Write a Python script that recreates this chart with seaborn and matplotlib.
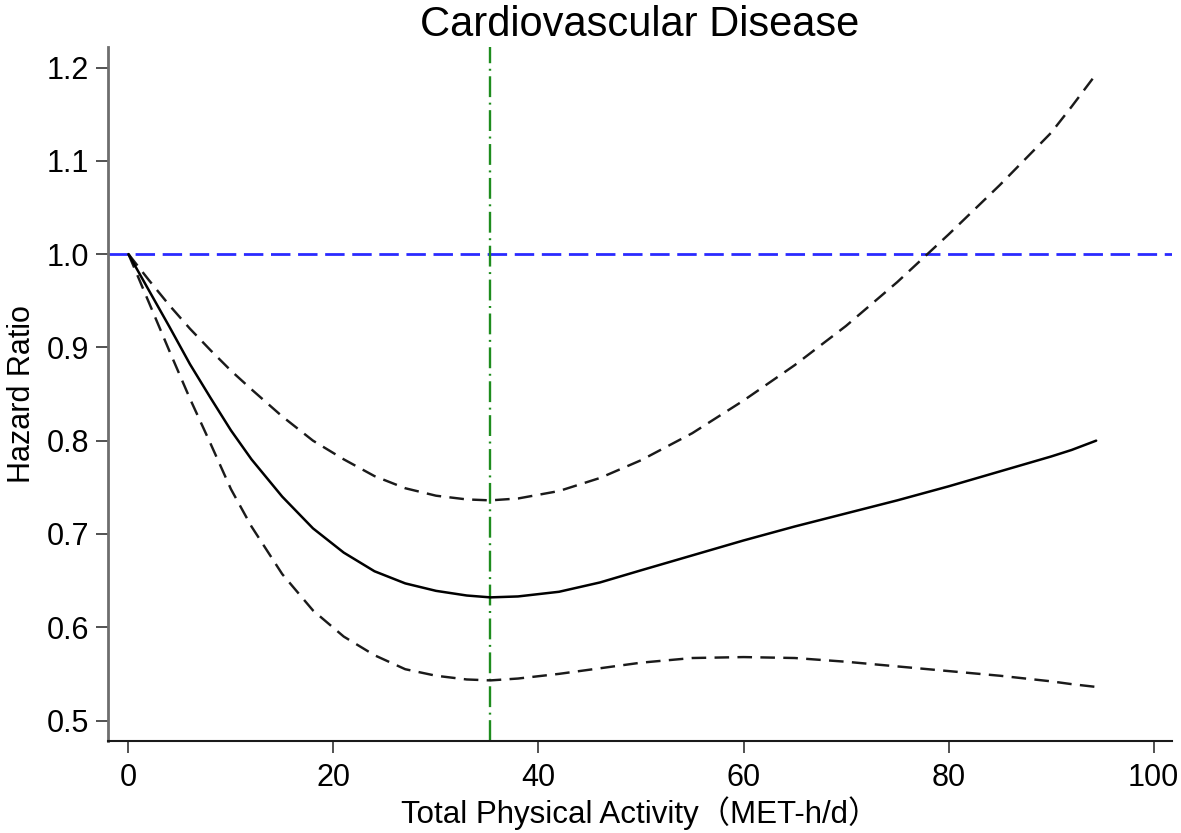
import numpy as np
import pandas as pd
import matplotlib
matplotlib.use('Agg')
import matplotlib.pyplot as plt
import seaborn as sns

# values
met = [0, 2, 4, 6, 8, 10, 12, 15, 18, 21, 24, 27, 30, 33, 35.3, 38, 42, 46, 50,
       55, 60, 65, 70, 75, 80, 85, 90, 92, 94.4]
hr = [1.000, 0.961, 0.922, 0.882, 0.846, 0.811, 0.780, 0.740, 0.706, 0.680, 0.660,
      0.647, 0.639, 0.634, 0.632, 0.633, 0.638, 0.648, 0.661, 0.677, 0.693, 0.708,
      0.722, 0.736, 0.751, 0.767, 0.783, 0.790, 0.800]
hr_upper = [1.000, 0.972, 0.945, 0.920, 0.897, 0.875, 0.855, 0.826, 0.800, 0.780,
            0.762, 0.749, 0.741, 0.737, 0.736, 0.738, 0.746, 0.760, 0.779, 0.808,
            0.843, 0.881, 0.923, 0.970, 1.021, 1.074, 1.130, 1.158, 1.193]
hr_lower = [1.000, 0.948, 0.896, 0.845, 0.797, 0.748, 0.708, 0.657, 0.618, 0.590,
            0.570, 0.555, 0.548, 0.544, 0.543, 0.545, 0.550, 0.556, 0.562, 0.567,
            0.568, 0.567, 0.563, 0.558, 0.553, 0.548, 0.542, 0.539, 0.536]
ref_hr = 1.0
min_met = 35.3
xticks = [0, 20, 40, 60, 80, 100]
yticks = [0.5, 0.6, 0.7, 0.8, 0.9, 1.0, 1.1, 1.2]

df = pd.DataFrame({'met': met, 'hr': hr, 'upper': hr_upper, 'lower': hr_lower})

sns.set_theme(style='ticks')
plt.rcParams['font.family'] = ['Liberation Sans', 'Noto Sans CJK SC', 'DejaVu Sans']
plt.rcParams['lines.scale_dashes'] = False
plt.rcParams['text.color'] = 'black'
plt.rcParams['axes.labelcolor'] = 'black'
plt.rcParams['xtick.labelcolor'] = 'black'
plt.rcParams['ytick.labelcolor'] = 'black'

fig = plt.figure(figsize=(11.81, 8.33), dpi=100)
ax = fig.add_axes([0.0914, 0.1104, 0.9010, 0.8332])

ax.axhline(ref_hr, color='#2a2aff', lw=2.0, dashes=(14, 5.5))
ax.axvline(min_met, color='#1e8c1e', lw=1.7, dashes=(15, 4, 1.4, 4))

sns.lineplot(data=df, x='met', y='upper', ax=ax, color='#1a1a1a', lw=1.75)
ax.lines[-1].set_dashes((10.5, 6))
sns.lineplot(data=df, x='met', y='lower', ax=ax, color='#1a1a1a', lw=1.75)
ax.lines[-1].set_dashes((10.5, 6))
sns.lineplot(data=df, x='met', y='hr', ax=ax, color='black', lw=1.8)

ax.set_xlim(-2, 101.8)
ax.set_ylim(0.478, 1.222)
ax.set_xticks(xticks)
ax.set_yticks(yticks)
ax.set_yticklabels([f'{v:.1f}' for v in yticks])

ax.set_title('Cardiovascular Disease', fontsize=30, pad=8)
ax.set_xlabel('Total Physical Activity（MET-h/d）', fontsize=22.5, labelpad=3)
ax.set_ylabel('Hazard Ratio', fontsize=22, labelpad=7)

ax.tick_params(axis='both', labelsize=22, length=8.5, width=1.2, color='#333333')
ax.tick_params(axis='y', pad=5)
ax.tick_params(axis='x', pad=7)
sns.despine(ax=ax)
ax.spines['left'].set_color('#6e6e6e')
ax.spines['left'].set_linewidth(2)
ax.spines['bottom'].set_color('#1a1a1a')
ax.spines['bottom'].set_linewidth(1.5)

fig.savefig('out.png', dpi=100)
